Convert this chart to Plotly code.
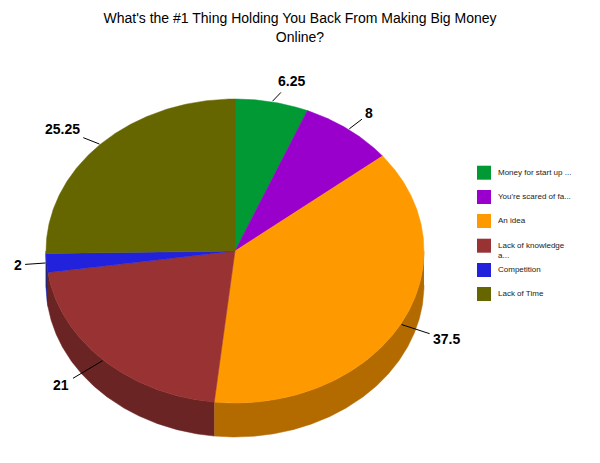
import numpy as np
import plotly.graph_objects as go

categories = ["Money for start up ...", "You're scared of fa...", "An idea",
              "Lack of knowledge<br>a...", "Competition", "Lack of Time"]
values = [6.25, 8, 37.5, 21, 2, 25.25]
value_labels = ["6.25", "8", "37.5", "21", "2", "25.25"]

face_colors = ["#009933", "#9900cc", "#ff9900", "#993333", "#2222dd", "#666600"]
wall_colors = ["#006b24", "#6b008f", "#b36b00", "#6b2424", "#18189b", "#474700"]

# pie geometry in pixels of the 600x463 page
CX, CY, RX, RY, DEPTH = 235, 251, 189, 152, 34
label_offsets = [(20, -21), (21, -16), (46, 15), (-42, 25), (-29, 2), (-38, -15)]
legend_x = 484
legend_y = [172.7, 197, 221, 245.7, 270, 294]


def arc(a0, a1, dy=0):
    t = np.radians(np.linspace(a0, a1, max(int(abs(a1 - a0) * 2), 2)))
    return CX + RX * np.sin(t), CY + dy - RY * np.cos(t)


fig = go.Figure()
total = sum(values)
edges = np.concatenate([[0], np.cumsum(values)]) / total * 360

# side wall: only the part of each slice on the front half shows
for i, cat in enumerate(categories):
    a0, a1 = max(edges[i], 90), min(edges[i + 1], 270)
    if a1 <= a0:
        continue
    xt, yt = arc(a0, a1)
    xb, yb = arc(a1, a0, DEPTH)
    fig.add_trace(go.Scatter(x=np.r_[xt, xb], y=np.r_[yt, yb], mode="lines", fill="toself",
                             fillcolor=wall_colors[i], line=dict(width=0.5, color=wall_colors[i]),
                             hoverinfo="skip", showlegend=False))

# top face
for i, cat in enumerate(categories):
    xt, yt = arc(edges[i], edges[i + 1])
    fig.add_trace(go.Scatter(x=np.r_[CX, xt, CX], y=np.r_[CY, yt, CY], mode="lines", fill="toself",
                             fillcolor=face_colors[i], line=dict(width=0.5, color=face_colors[i]),
                             name=cat.replace("<br>", " "), text=f"{values[i]}", hoverinfo="name+text",
                             showlegend=False))

# value labels with leader lines
for i, lab in enumerate(value_labels):
    mid = np.radians((edges[i] + edges[i + 1]) / 2)
    fig.add_annotation(x=CX + RX * np.sin(mid), y=CY - RY * np.cos(mid), text=f"<b>{lab}</b>",
                       ax=label_offsets[i][0], ay=label_offsets[i][1], showarrow=True,
                       arrowhead=0, arrowwidth=1, arrowcolor="#000000", borderpad=3, standoff=1,
                       font=dict(family="Liberation Sans", size=14, color="#000000"))

# legend
fig.add_trace(go.Scatter(x=[legend_x] * len(categories), y=legend_y, mode="markers",
                         marker=dict(symbol="square", size=14, color=face_colors, line=dict(width=0)),
                         hoverinfo="skip", showlegend=False))
for i, cat in enumerate(categories):
    fig.add_annotation(x=498, y=legend_y[i] - 5, text=cat, showarrow=False, xanchor="left",
                       yanchor="top", align="left", borderpad=0, borderwidth=0,
                       font=dict(family="Liberation Sans", size=8, color="#222222"))

fig.update_layout(
    width=600, height=463, margin=dict(l=0, r=0, t=0, b=0),
    paper_bgcolor="#ffffff", plot_bgcolor="#ffffff", showlegend=False,
    title=dict(text="What's the #1 Thing Holding You Back From Making Big Money<br>Online?",
               x=0.5, xanchor="center", y=0.9495, yanchor="middle",
               font=dict(family="Liberation Sans", size=14, color="#000000")),
    xaxis=dict(range=[0, 600], visible=False, fixedrange=True),
    yaxis=dict(range=[463, 0], visible=False, fixedrange=True),
)
fig.write_html("out.html", config={"displayModeBar": False},
               post_script="document.body.style.margin='0';")
